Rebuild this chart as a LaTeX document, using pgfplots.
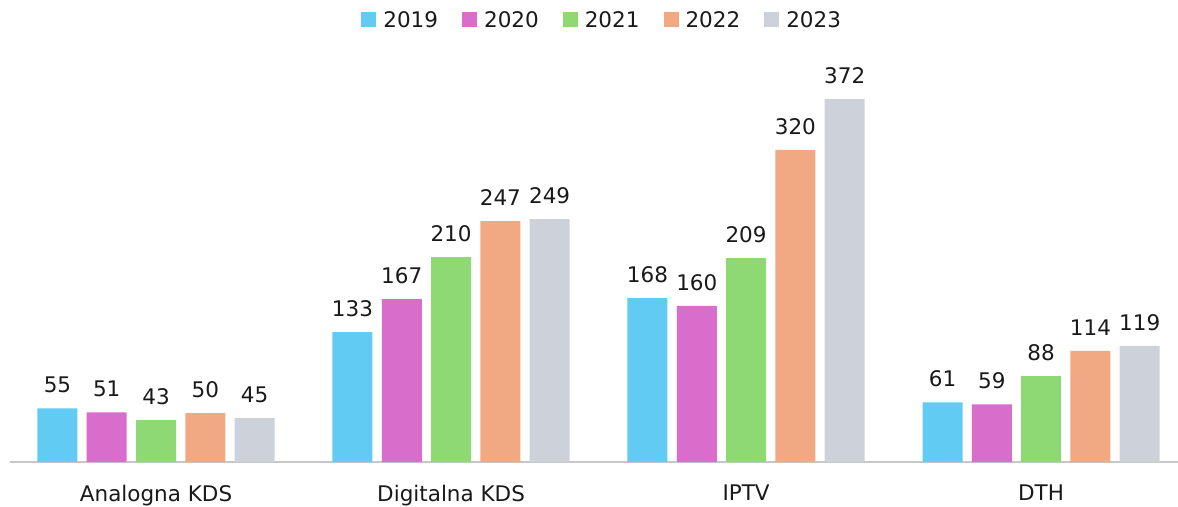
\documentclass[border=0pt]{standalone}
\usepackage{fontspec}
\setmainfont{DejaVu Sans}
\usepackage{pgfplots}
\pgfplotsset{compat=1.18}
\definecolor{c19}{HTML}{61CBF3}
\definecolor{c20}{HTML}{D86DCB}
\definecolor{c21}{HTML}{8ED973}
\definecolor{c22}{HTML}{F1A983}
\definecolor{c23}{HTML}{CDD1D9}
\newcommand\bigf{\fontsize{21.5}{25}\selectfont}
\begin{document}
\begin{tikzpicture}
\begin{axis}[
  name=ax,
  at={(0,0)}, anchor=south west,
  scale only axis,
  width=1168pt, height=402pt,
  xmin=-0.495, xmax=3.464,
  ymin=0, ymax=412,
  ybar=9.3pt,
  bar width=40pt,
  axis x line*=bottom,
  axis y line=none,
  x axis line style={-, draw=black!22, line width=1.2pt},
  xtick={0,1,2,3},
  xticklabels={Analogna KDS, Digitalna KDS, IPTV, DTH},
  major tick length=0pt,
  ytick=\empty,
  font=\bigf,
  /pgf/number format/assume math mode=true,
  xticklabel style={font=\bigf, inner sep=0pt, anchor=north, yshift=-23pt, text=black!90},
  nodes near coords,
  every node near coord/.append style={font=\bigf, anchor=south, inner sep=0pt, yshift=15pt, text=black!90},
  legend columns=5,
  legend style={draw=none, fill=none, at={(0.507,1.0995)}, anchor=center, font=\bigf, text=black!90,
    /tikz/every odd column/.append style={column sep=5pt},
    /tikz/every even column/.append style={column sep=22pt}},
  legend image code/.code={\fill[#1] (0pt,-7.5pt) rectangle (15pt,7.5pt);},
]
\addplot[fill=c19, draw=none] coordinates {(0,55) (1,133) (2,168) (3,61)};
\addplot[fill=c20, draw=none] coordinates {(0,51) (1,167) (2,160) (3,59)};
\addplot[fill=c21, draw=none] coordinates {(0,43) (1,210) (2,209) (3,88)};
\addplot[fill=c22, draw=none] coordinates {(0,50) (1,247) (2,320) (3,114)};
\addplot[fill=c23, draw=none] coordinates {(0,45) (1,249) (2,372) (3,119)};
\legend{2019,2020,2021,2022,2023}
\end{axis}
\pgfresetboundingbox
\path ([shift={(-10pt,-44pt)}]ax.south west) rectangle ([shift={(0pt,60pt)}]ax.north east);
\end{tikzpicture}
\end{document}
